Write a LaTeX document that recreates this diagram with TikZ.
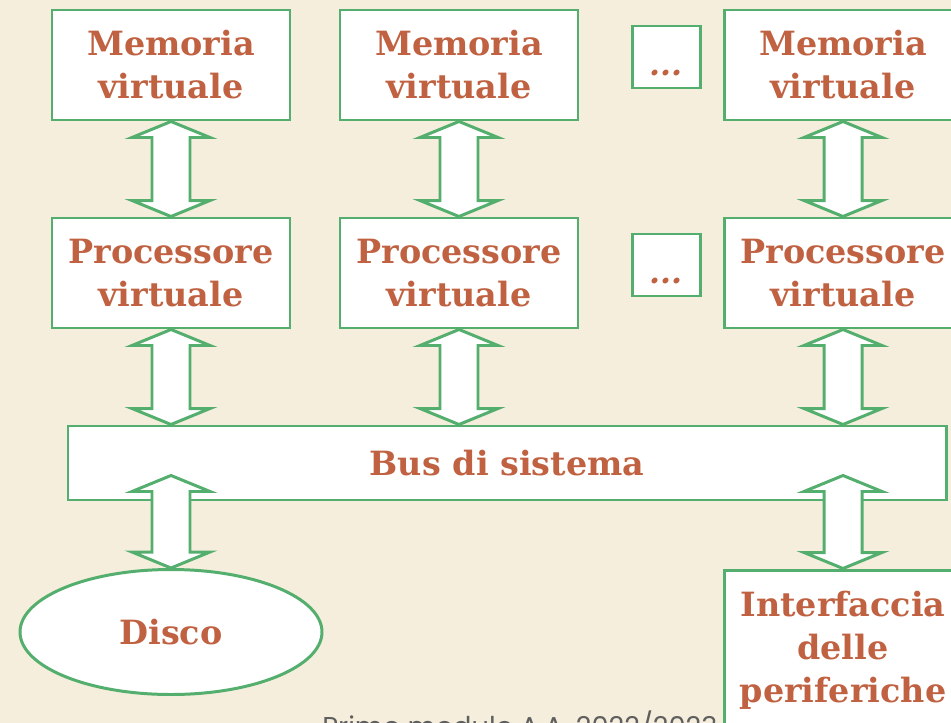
\documentclass[tikz,border=0pt]{standalone}
\usepackage{fontspec}
\setmainfont{DejaVu Serif}
\newfontfamily\footfont{Poppins}
\usepackage{xcolor}
\usetikzlibrary{shapes.geometric,calc}
\definecolor{paper}{RGB}{245,238,220}
\definecolor{boxgreen}{RGB}{84,174,110}
\definecolor{rust}{RGB}{192,98,66}
\definecolor{footgray}{RGB}{95,95,95}
\tikzset{
  unit/.style   = { draw=boxgreen, line width=1.7pt, fill=white, text=rust,
                    font=\fontsize{19}{24.5}\selectfont\bfseries, align=center,
                    minimum width=4.76cm, minimum height=2.2cm, inner sep=0pt },
  more/.style   = { draw=boxgreen, line width=1.7pt, fill=white, text=rust,
                    font=\fontsize{18}{20}\selectfont\bfseries\itshape, inner sep=0pt,
                    text height=0.72cm, text depth=0pt,
                    minimum width=1.36cm, minimum height=1.24cm },
  bus/.style    = { unit, minimum width=17.56cm, minimum height=1.48cm },
  disk/.style   = { unit, ellipse, minimum width=6.04cm, minimum height=2.5cm },
  fat/.style    = { draw=boxgreen, line width=1.7pt, fill=white, line join=miter },
  footer/.style = { text=footgray, font=\footfont\fontsize{15.5}{18}\selectfont, inner sep=0pt }
}
% hollow double arrow, tips at #1 (top) and #2 (bottom)
\newcommand{\fatarrow}[2]{%
  \draw[fat] let \p1=(#1), \p2=(#2) in
    (\x1,\y1) -- (\x1+0.78cm,\y1-0.32cm) -- (\x1+0.38cm,\y1-0.32cm)
    -- (\x1+0.38cm,\y2+0.32cm) -- (\x1+0.78cm,\y2+0.32cm) -- (\x1,\y2)
    -- (\x1-0.78cm,\y2+0.32cm) -- (\x1-0.38cm,\y2+0.32cm)
    -- (\x1-0.38cm,\y1-0.32cm) -- (\x1-0.78cm,\y1-0.32cm) -- cycle;}

\begin{document}
\begin{tikzpicture}
  \fill[paper] (0,0) rectangle (19.02,-14.46);
  \useasboundingbox (0,0) rectangle (19.02,-14.46);
  \clip (0,0) rectangle (19.02,-14.46);

  % Draw memories
  \node[unit] (mem1) at (3.42,-1.30) {Memoria\\virtuale};
  \node[unit] (mem2) at (9.18,-1.30) {Memoria\\virtuale};
  \node[more] (memmore) at (13.32,-1.14) {...};
  \node[unit] (mem3) at (16.86,-1.30) {Memoria\\virtuale};

  % Draw processors
  \node[unit] (proc1) at (3.42,-5.46) {Processore\\virtuale};
  \node[unit] (proc2) at (9.18,-5.46) {Processore\\virtuale};
  \node[more] (procmore) at (13.32,-5.30) {...};
  \node[unit] (proc3) at (16.86,-5.46) {Processore\\virtuale};

  % Draw bus and devices
  \node[bus] (bus) at (10.14,-9.26) {Bus di sistema};
  \node[disk] (disc) at (3.42,-12.64) {Disco};
  \node[unit, minimum height=3.2cm] (iface) at (16.86,-13.0) {Interfaccia\\delle\\periferiche};

  % Draw arrows
  \fatarrow{mem1.south}{proc1.north}
  \fatarrow{mem2.south}{proc2.north}
  \fatarrow{mem3.south}{proc3.north}
  \fatarrow{proc1.south}{bus.north}
  \fatarrow{proc2.south}{bus.north}
  \fatarrow{proc3.south}{bus.north}
  \fatarrow{$(bus.south -| disc.north)+(0,0.52)$}{disc.north}
  \fatarrow{$(bus.south -| iface.north)+(0,0.52)$}{iface.north}

  % Draw footer
  \node[footer, anchor=base west] (credit) at (6.44,-14.73) {Primo modulo A.A. 2022/2023};
\end{tikzpicture}
\end{document}
